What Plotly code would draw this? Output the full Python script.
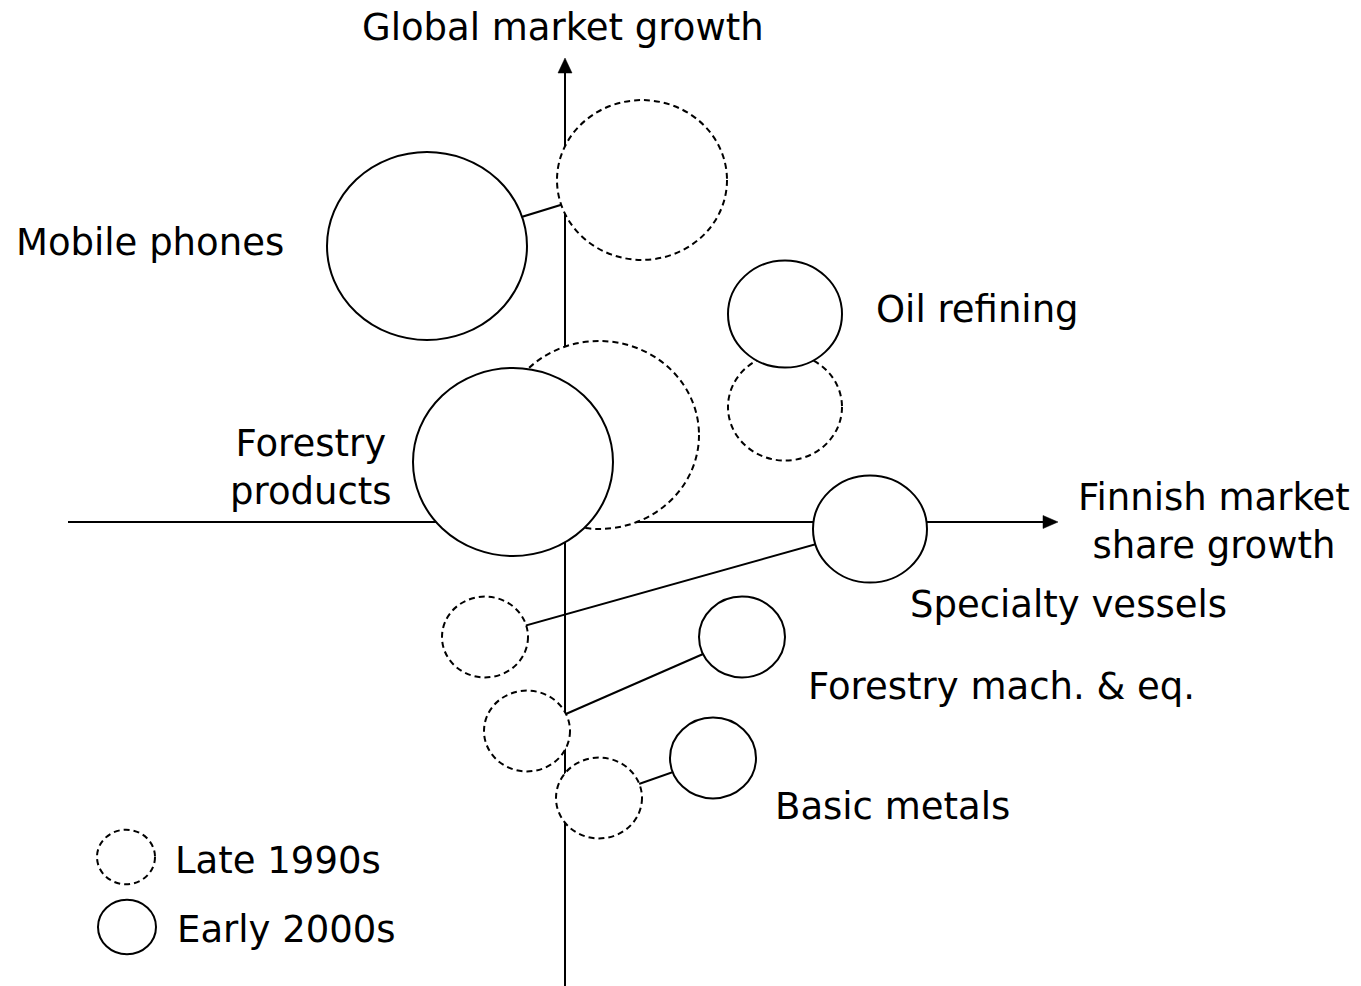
import plotly.graph_objects as go

# ---- data (x = Finnish market share growth, y = global market growth; arbitrary units) ----
categories = ["Mobile phones", "Oil refining", "Forestry products",
              "Specialty vessels", "Forestry mach. & eq.", "Basic metals"]
late90s_x = [77, 220, 34, -80, -38, 34]
late90s_y = [342, 115, 87, -115, -209, -276]
late90s_size = [85, 57, 100, 43, 43, 43]
early00s_x = [-138, 220, -52, 305, 177, 148]
early00s_y = [276, 208, 60, -7, -115, -236]
early00s_size = [100, 57, 100, 57, 43, 43]
period_labels = ["Late 1990s", "Early 2000s"]
axis_titles = ["Finnish market<br>share growth", "Global market growth"]
label_text = ["Mobile phones", "Oil refining", "Forestry<br>products",
              "Specialty vessels", "Forestry mach. & eq.", "Basic metals"]

# ---- layout constants ----
X_RANGE = [-565, 796]
Y_RANGE = [-464, 522]
ASPECT = 0.94  # vertical radius / horizontal radius
FONT = dict(family="DejaVu Sans", size=37, color="black")
label_pos = [(-415, 280), (412, 213), (-254, 55), (503, -82), (436, -164), (327, -284)]
X_AXIS_START, X_AXIS_TIP = -497, 493
Y_AXIS_START, Y_AXIS_TIP = -470, 464
HEAD_LEN, HEAD_HALF_W = 15, 7

fig = go.Figure()

line_style = dict(color="black", width=2)
# axes lines
fig.add_trace(go.Scatter(x=[X_AXIS_START, X_AXIS_TIP - HEAD_LEN], y=[0, 0], mode="lines",
                         line=line_style, hoverinfo="skip", showlegend=False))
fig.add_trace(go.Scatter(x=[0, 0], y=[Y_AXIS_START, Y_AXIS_TIP - HEAD_LEN], mode="lines",
                         line=line_style, hoverinfo="skip", showlegend=False))
# arrowheads
fig.add_trace(go.Scatter(
    x=[X_AXIS_TIP, X_AXIS_TIP - HEAD_LEN, X_AXIS_TIP - HEAD_LEN, X_AXIS_TIP],
    y=[0, HEAD_HALF_W - 0.5, -HEAD_HALF_W + 0.5, 0],
    mode="lines", fill="toself", fillcolor="black", line=dict(color="black", width=0.5),
    hoverinfo="skip", showlegend=False))
fig.add_trace(go.Scatter(
    x=[0, -HEAD_HALF_W, HEAD_HALF_W, 0],
    y=[Y_AXIS_TIP, Y_AXIS_TIP - HEAD_LEN, Y_AXIS_TIP - HEAD_LEN, Y_AXIS_TIP],
    mode="lines", fill="toself", fillcolor="black", line=dict(color="black", width=0.5),
    hoverinfo="skip", showlegend=False))

# connectors
cx, cy = [], []
for i in range(len(categories)):
    cx += [late90s_x[i], early00s_x[i], None]
    cy += [late90s_y[i], early00s_y[i], None]
fig.add_trace(go.Scatter(x=cx, y=cy, mode="lines", line=line_style,
                         hoverinfo="skip", showlegend=False))


def ellipse(x, y, r, dash):
    fig.add_shape(type="circle", xref="x", yref="y",
                  x0=x - r, x1=x + r, y0=y - r * ASPECT, y1=y + r * ASPECT,
                  line=dict(color="black", width=2, dash=dash),
                  fillcolor="white", layer="above")


for i in range(len(categories)):
    ellipse(late90s_x[i], late90s_y[i], late90s_size[i], "6px,4px")
for i in range(len(categories)):
    ellipse(early00s_x[i], early00s_y[i], early00s_size[i], "solid")

# legend
ellipse(-439, -335, 29, "6px,4px")
ellipse(-438, -405, 29, "solid")
fig.add_annotation(x=-392, y=-338, text=period_labels[0], showarrow=False, xanchor="left", font=FONT)
fig.add_annotation(x=-390, y=-407, text=period_labels[1], showarrow=False, xanchor="left", font=FONT)

# category labels
for t, (lx, ly) in zip(label_text, label_pos):
    fig.add_annotation(x=lx, y=ly, text=t, showarrow=False, font=FONT)

# axis titles
fig.add_annotation(x=649, y=1, text=axis_titles[0], showarrow=False, font=FONT)
fig.add_annotation(x=-2, y=495, text=axis_titles[1], showarrow=False, font=FONT)

fig.update_xaxes(range=X_RANGE, visible=False, fixedrange=True)
fig.update_yaxes(range=Y_RANGE, visible=False, fixedrange=True)
fig.update_layout(width=1361, height=986, margin=dict(l=0, r=0, t=0, b=0),
                  plot_bgcolor="white", paper_bgcolor="white", showlegend=False)

fig.write_html("out.html", config={"displayModeBar": False},
               post_script="document.body.style.margin='0';")
